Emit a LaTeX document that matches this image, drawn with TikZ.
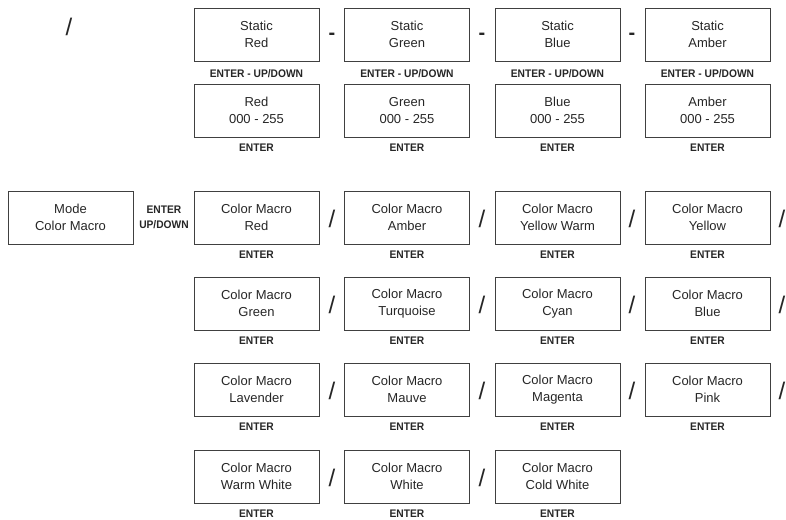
\documentclass[tikz,border=0pt]{standalone}
\usepackage{fontspec}
\setmainfont{Liberation Sans}
\begin{document}
\begin{tikzpicture}[x=1pt,y=-1pt,
  box/.style={draw=black!75,line width=0.9pt,minimum width=125pt,minimum height=53pt,inner sep=0pt,align=center,font=\fontsize{13}{16.5}\selectfont,text=black!85},
  lbl/.style={font=\fontsize{11}{13}\selectfont\bfseries,text=black!85,inner sep=0pt},
  sep/.style={font=\fontsize{24}{24}\selectfont,text=black!85,inner sep=0pt},
  dsh/.style={font=\fontsize{20}{20}\selectfont\bfseries,text=black!85,inner sep=0pt}]
\useasboundingbox (0,0) rectangle (786,519);
\newcommand{\nar}[1]{\scalebox{0.93}[1]{#1}}
% top-left slash
\node[sep] (tl) at (69,27) {/};
% static row
\foreach \n/\c/\x in {sr/Red/256.5, sg/Green/407, sb/Blue/557.5, sa/Amber/707.5}{
  \node[box] (\n) at (\x,34.5) {Static\\\c};
  \node[lbl] (\n l) at (\x,74) {\nar{ENTER - UP/DOWN}};
  \node[box] (\n v) at (\x,110.5) {\c\\000 - 255};
  \node[lbl] (\n vl) at (\x,147.5) {\nar{ENTER}};
}
\node[dsh] (d1) at (332,36) {-};
\node[dsh] (d2) at (482,36) {-};
\node[dsh] (d3) at (632,36) {-};
% mode
\node[box] (mode) at (70.5,217.5) {Mode\\Color Macro};
\node[lbl,align=center] (mlbl) at (164,217.5) {\nar{ENTER}\\[1.5pt]\nar{UP/DOWN}};
% macro rows
\foreach \r/\y/\a/\b/\c/\d in {1/217.5/Red/Amber/Yellow Warm/Yellow,
                               2/303.5/Green/Turquoise/Cyan/Blue,
                               3/389.5/Lavender/Mauve/Magenta/Pink}{
  \node[box] (m\r a) at (256.5,\y) {Color Macro\\\a};
  \node[box] (m\r b) at (407,\y) {Color Macro\\\b};
  \node[box] (m\r c) at (557.5,\y) {Color Macro\\\c};
  \node[box] (m\r d) at (707.5,\y) {Color Macro\\\d};
  \foreach \k/\x in {a/256.5,b/407,c/557.5,d/707.5}{
    \node[lbl] (m\r\k l) at (\x,\y+37) {\nar{ENTER}};
  }
  \node[sep] (s\r a) at (332,\y+1) {/};
  \node[sep] (s\r b) at (482,\y+1) {/};
  \node[sep] (s\r c) at (632,\y+1) {/};
  \node[sep] (s\r d) at (782,\y+1) {/};
}
\node[box] (m4a) at (256.5,476.5) {Color Macro\\Warm White};
\node[box] (m4b) at (407,476.5) {Color Macro\\White};
\node[box] (m4c) at (557.5,476.5) {Color Macro\\Cold White};
\foreach \k/\x in {a/256.5,b/407,c/557.5}{
  \node[lbl] (m4\k l) at (\x,514) {\nar{ENTER}};
}
\node[sep] (s4a) at (332,477.5) {/};
\node[sep] (s4b) at (482,477.5) {/};
\end{tikzpicture}
\end{document}
